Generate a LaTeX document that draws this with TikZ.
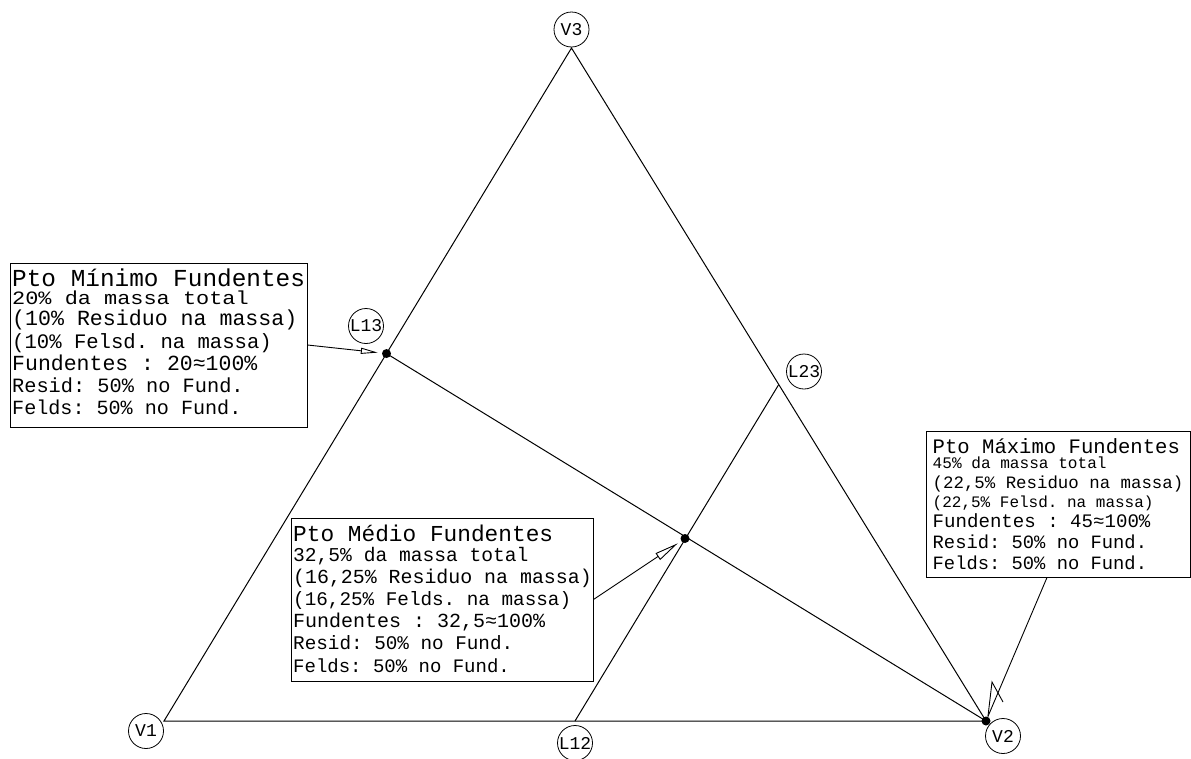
\documentclass[tikz,border=0pt]{standalone}
\usepackage{fontspec}
\setmonofont{Liberation Mono}
\usetikzlibrary{arrows.meta,calc}

\newcommand{\fsz}[1]{\fontsize{#1pt}{#1pt}\selectfont}

\tikzset{
  edge/.style={line width=1pt, black},
  tag/.style={draw, circle, line width=0.8pt, minimum size=35pt, inner sep=0pt,
              font=\ttfamily\fsz{18}},
  dot/.style={circle, fill=black, minimum size=9pt, inner sep=0pt},
  notebox/.style={draw, line width=1pt, inner sep=0pt},
  txt/.style={anchor=base west, inner sep=0pt, font=\ttfamily},
  leader/.style={line width=0.9pt, -{Stealth[open,length=17pt,width=6pt,inset=0pt]}, shorten >=4pt},
}

\begin{document}
\begin{tikzpicture}[x=1pt, y=-1pt]
\useasboundingbox (0,0) rectangle (1191,758);

% vertices and division points of the triangle
\coordinate (V1) at (164,721);
\coordinate (V2) at (986,721);
\coordinate (V3) at (571.5,48);
\coordinate (P12) at ($(V1)!0.5!(V2)$);
\coordinate (P23) at ($(V3)!0.5!(V2)$);
\coordinate (P13) at ($(V1)!0.546!(V3)$);
\coordinate (PM) at (685,538.5);

% triangle and inner lines
\draw[edge] (V1) -- (V2) -- (V3) -- cycle;
\draw[edge] (P12) -- (P23);
\draw[edge] (P13) -- (V2);

% point markers
\node[dot] (d13) at (P13) {};
\node[dot] (dM) at (PM) {};
\node[dot] (d2) at (V2) {};

% circled labels
\node[tag] (tV1) at (146,731) {V1};
\node[tag] (tV2) at (1003,736) {V2};
\node[tag] (tV3) at (571.5,29.5) {V3};
\node[tag] (tL12) at (575,743) {L12};
\node[tag] (tL23) at (804,371.5) {L23};
\node[tag] (tL13) at (366,326) {L13};

% note boxes
\node[notebox, minimum width=297pt, minimum height=164pt] (box1) at (158.5,345) {};
\node[notebox, minimum width=302pt, minimum height=163pt] (box2) at (442,599.5) {};
\node[notebox, minimum width=264pt, minimum height=146pt] (box3) at (1058,504) {};

% minimum point text
\node[txt] (b1l1) at (12,286) {\fsz{24.4}Pto Mínimo Fundentes};
\node[txt] (b1l2) at (12,304) {\fsz{21.9}\scalebox{1}[0.86]{20\% da massa total}};
\node[txt] (b1l3) at (12,325) {\fsz{21.6}(10\% Residuo na massa)};
\node[txt] (b1l4) at (12,348) {\fsz{20.6}(10\% Felsd. na massa)};
\node[txt] (b1l5) at (12,370) {\fsz{21.5}Fundentes : 20≈100\%};
\node[txt] (b1l6) at (12,392) {\fsz{20.3}Resid: 50\% no Fund.};
\node[txt] (b1l7) at (12,414) {\fsz{20.1}Felds: 50\% no Fund.};

% middle point text
\node[txt] (b2l1) at (293,541.5) {\fsz{22.8}Pto Médio Fundentes};
\node[txt] (b2l2) at (293,561.5) {\fsz{19.6}32,5\% da massa total};
\node[txt] (b2l3) at (293,583) {\fsz{19.9}(16,25\% Residuo na massa)};
\node[txt] (b2l4) at (293,605) {\fsz{19.3}(16,25\% Felds. na massa)};
\node[txt] (b2l5) at (293,627) {\fsz{20}Fundentes : 32,5≈100\%};
\node[txt] (b2l6) at (293,649) {\fsz{19.3}Resid: 50\% no Fund.};
\node[txt] (b2l7) at (293,672) {\fsz{19}Felds: 50\% no Fund.};

% maximum point text
\node[txt] (b3l1) at (932.5,453) {\fsz{20.6}Pto Máximo Fundentes};
\node[txt] (b3l2) at (932.5,468) {\fsz{16.1}45\% da massa total};
\node[txt] (b3l3) at (932.5,488) {\fsz{17.4}(22,5\% Residuo na massa)};
\node[txt] (b3l4) at (932.5,507) {\fsz{16}(22,5\% Felsd. na massa)};
\node[txt] (b3l5) at (932.5,527) {\fsz{19.1}Fundentes : 45≈100\%};
\node[txt] (b3l6) at (932.5,548) {\fsz{18.8}Resid: 50\% no Fund.};
\node[txt] (b3l7) at (932.5,569) {\fsz{18.8}Felds: 50\% no Fund.};

% leaders from the notes to their points
\draw[leader] (box1.east) -- (d13);
\draw[leader, -{Stealth[open,length=24pt,width=8pt,inset=0pt]}] (box2.east) -- (dM);
\coordinate (b3foot) at ([xshift=-11pt]box3.south);
\draw[line width=0.9pt] (b3foot) -- (d2);
\coordinate (h1) at (988,716);
\coordinate (h2) at (992,682);
\coordinate (h3) at (1003,702);
\draw[line width=0.9pt] (h1) -- (h2) -- (h3);
\end{tikzpicture}
\end{document}
